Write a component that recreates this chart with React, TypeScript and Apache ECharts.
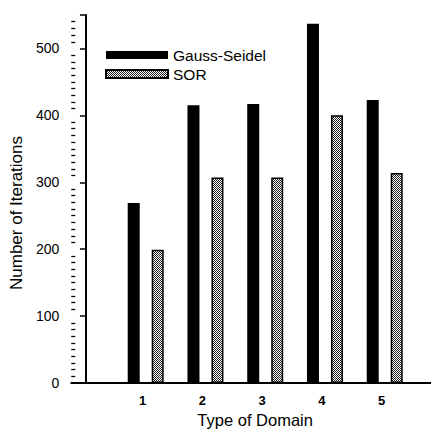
import React, { useEffect, useRef } from "react";
import * as echarts from "echarts";

const categories = [1, 2, 3, 4, 5];
const gaussSeidel = [269, 415, 417, 537, 423];
const sor = [199, 307, 307, 400, 314];
const yTicks = [0, 100, 200, 300, 400, 500];

function makePattern(): any {
  const c = document.createElement("canvas");
  c.width = 2;
  c.height = 2;
  const ctx = c.getContext("2d");
  if (!ctx) return "#9a9a9a";
  ctx.fillStyle = "#ffffff";
  ctx.fillRect(0, 0, 2, 2);
  ctx.fillStyle = "#222222";
  ctx.fillRect(0, 0, 1, 1);
  ctx.fillRect(1, 1, 1, 1);
  return { image: c, repeat: "repeat" };
}

export default function App() {
  const ref = useRef<HTMLDivElement>(null);
  useEffect(() => {
    if (!ref.current) return;
    const chart = echarts.init(ref.current, null, { renderer: "svg" });
    const font = "Liberation Sans, Arial, Helvetica, sans-serif";
    const pattern = makePattern();
    chart.setOption({
      animation: false,
      textStyle: { fontFamily: font, color: "#000" },
      grid: { left: 71, right: 6, top: 15, bottom: 54 },
      legend: {
        orient: "vertical",
        left: 100,
        top: 42,
        itemWidth: 62,
        itemHeight: 8,
        itemGap: 3,
        icon: "rect",
        textStyle: { fontFamily: font, fontSize: 15.5, color: "#000" },
        data: ["Gauss-Seidel", "SOR"],
      },
      xAxis: {
        type: "value",
        min: -0.246,
        max: 5.808,
        name: "Type of Domain",
        nameLocation: "middle",
        nameGap: 27,
        nameTextStyle: { fontFamily: font, fontSize: 16.5, color: "#000", padding: [0, 0, 0, 6] },
        splitLine: { show: false },
        axisTick: { show: false },
        axisLine: { show: true, onZero: false, lineStyle: { color: "#000", width: 2 } },
        axisLabel: {
          customValues: categories,
          margin: 11,
          fontSize: 13,
          fontWeight: "bold",
          color: "#000",
          padding: [0, 6, 0, 0],
          fontFamily: font,
        },
      },
      yAxis: [
        {
          type: "value",
          min: 0,
          max: 550,
          interval: 100,
          name: "Number of Iterations",
          nameLocation: "middle",
          nameGap: 44,
          nameTextStyle: { fontFamily: font, fontSize: 17, color: "#000", padding: [0, 28, 0, 0] },
          splitLine: { show: false },
          axisLine: { show: true, lineStyle: { color: "#000", width: 2 } },
          axisTick: { show: true, length: 6, lineStyle: { color: "#000", width: 1.5 } },
          axisLabel: {
            customValues: yTicks,
            margin: 12,
            fontSize: 14,
            color: "#000",
            fontFamily: font,
          },
        },
        {
          type: "value",
          min: 0,
          max: 550,
          interval: 100,
          position: "left",
          splitLine: { show: false },
          axisLine: { show: false },
          axisLabel: { show: false },
          axisTick: { show: false, inside: true },
          minorTick: { show: true, splitNumber: 10, length: 4, lineStyle: { color: "#000", width: 1.3 } },
        },
      ],
      series: [
        {
          name: "Gauss-Seidel",
          type: "bar",
          barWidth: 12,
          barGap: "100%",
          data: categories.map((c, i) => [c, gaussSeidel[i]]),
          itemStyle: { color: "#000" },
        },
        {
          name: "SOR",
          type: "bar",
          barWidth: 12,
          barGap: "100%",
          data: categories.map((c, i) => [c, sor[i]]),
          itemStyle: { color: pattern, borderColor: "#000", borderWidth: 1.5 },
        },
      ],
    });
    return () => chart.dispose();
  }, []);
  return <div ref={ref} style={{ width: 439, height: 437, margin: -8 }} />;
}
